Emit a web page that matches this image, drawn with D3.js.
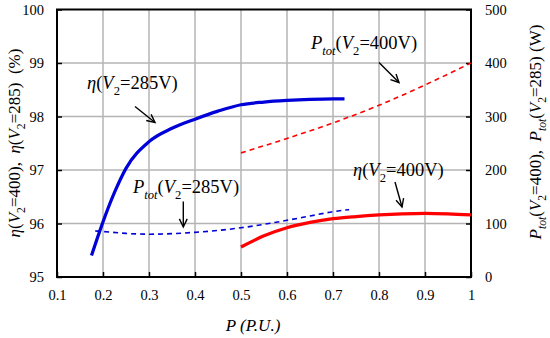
<!DOCTYPE html>
<html><head><meta charset="utf-8">
<script src="https://cdn.jsdelivr.net/npm/d3@7"></script>
</head>
<body style="margin:0">
<svg id="c" width="550" height="338" style="font-family:'Liberation Serif','Times New Roman',Tinos,monospace"></svg>
<script>
// ---- data ----
const xTicks = [0.1,0.2,0.3,0.4,0.5,0.6,0.7,0.8,0.9,1];
const xTickLabels = ["0.1","0.2","0.3","0.4","0.5","0.6","0.7","0.8","0.9","1"];
const leftTicks = [95,96,97,98,99,100];
const rightTicks = [0,100,200,300,400,500];

const eta285P = [0.175,0.2,0.225,0.25,0.3,0.35,0.4,0.45,0.5,0.55,0.6,0.65,0.7,0.725];
const eta285V = [95.40,96.03,96.58,97.03,97.53,97.78,97.95,98.10,98.22,98.27,98.30,98.32,98.33,98.33];

const eta400P = [0.5,0.55,0.6,0.65,0.7,0.75,0.8,0.85,0.9,0.95,1.0];
const eta400V = [95.56,95.77,95.92,96.02,96.09,96.13,96.16,96.18,96.19,96.18,96.16];

const ptot285P = [0.183,0.2,0.25,0.3,0.35,0.4,0.45,0.5,0.55,0.6,0.65,0.7,0.735];
const ptot285V = [86,85,81.5,80,81,83.5,87,92,98.5,106,114,122,126];

const ptot400P = [0.5,0.6,0.7,0.8,0.9,1.0];
const ptot400V = [232,259,288,321,359,400];

// ---- layout ----
const L=57, R=471, T=9.5, B=277;
const svg = d3.select("#c");
const x = d3.scaleLinear().domain([0.1,1]).range([L,R]);
const yL = d3.scaleLinear().domain([95,100]).range([B,T]);
const yR = d3.scaleLinear().domain([0,500]).range([B,T]);

const gridColor="#b4b4b4";
svg.append("g").selectAll("line").data(xTicks.slice(1,-1)).join("line")
  .attr("x1",d=>x(d)).attr("x2",d=>x(d)).attr("y1",T).attr("y2",B)
  .attr("stroke",gridColor).attr("stroke-width",1.5);
svg.append("g").selectAll("line").data(leftTicks.slice(1,-1)).join("line")
  .attr("y1",d=>yL(d)).attr("y2",d=>yL(d)).attr("x1",L).attr("x2",R)
  .attr("stroke",gridColor).attr("stroke-width",1.5);

// axes
const fs=14.5;
const ax = svg.append("g").attr("transform",`translate(0,${B})`)
  .call(d3.axisBottom(x).tickValues(xTicks).tickFormat((d,i)=>xTickLabels[i]).tickSizeInner(-5).tickSizeOuter(0).tickPadding(13));
const al = svg.append("g").attr("transform",`translate(${L},0)`)
  .call(d3.axisLeft(yL).tickValues(leftTicks).tickFormat(d3.format("d")).tickSizeInner(-5).tickSizeOuter(0).tickPadding(13));
const ar = svg.append("g").attr("transform",`translate(${R},0)`)
  .call(d3.axisRight(yR).tickValues(rightTicks).tickFormat(d3.format("d")).tickSizeInner(-5).tickSizeOuter(0).tickPadding(14));
[ax,al,ar].forEach(g=>{
  g.attr("font-family",null).attr("font-size",fs);
  g.select(".domain").remove();
  g.selectAll(".tick line").attr("stroke","#000").attr("stroke-width",1.5);
  g.selectAll(".tick text").attr("fill","#000");
});

// frame
svg.append("rect").attr("x",L).attr("y",T).attr("width",R-L).attr("height",B-T)
  .attr("fill","none").attr("stroke","#000").attr("stroke-width",2);

// lines
const blue="#0000d8", red="#ff0000";
function drawLine(P,V,yS,color,w,dash){
  const data = P.map((p,i)=>[p,V[i]]);
  svg.append("path").datum(data)
    .attr("d",d3.line().x(d=>x(d[0])).y(d=>yS(d[1])).curve(d3.curveMonotoneX))
    .attr("fill","none").attr("stroke",color).attr("stroke-width",w)
    .attr("stroke-dasharray",dash||null);
}
drawLine(ptot285P,ptot285V,yR,blue,1.6,"5,4");
drawLine(ptot400P,ptot400V,yR,red,1.6,"5,4");
drawLine(eta285P,eta285V,yL,blue,3.2);
drawLine(eta400P,eta400V,yL,red,3.2);

// rich labels
function addParts(t,parts,size){
  let shift=0;
  parts.forEach(p=>{
    const ts=t.append("tspan").text(p.t);
    if(p.s) ts.attr("font-size",size*0.68);
    if(p.i) ts.attr("font-style","italic");
    const target = p.s ? size*0.3 : 0;
    if(target!==shift){ ts.attr("dy",target-shift); shift=target; }
  });
}
function rich(xp,yp,parts,size){
  const t = svg.append("text").attr("x",xp).attr("y",yp).attr("font-size",size);
  addParts(t,parts,size);
  return t;
}
const eta = (v)=>[{t:"η",i:1},{t:"("},{t:"V",i:1},{t:"2",s:1},{t:"="+v+")"}];
const ptot = (v)=>[{t:"P",i:1},{t:"tot",i:1,s:1},{t:"("},{t:"V",i:1},{t:"2",s:1},{t:"="+v+")"}];

const lf=18.5;
rich(87,89,eta("285V"),lf);
rich(133,193,ptot("285V"),lf);
rich(311,49,ptot("400V"),lf);
rich(353,176,eta("400V"),lf);

// arrows
function arrow(x1,y1,x2,y2){
  svg.append("line").attr("x1",x1).attr("y1",y1).attr("x2",x2).attr("y2",y2)
    .attr("stroke","#000").attr("stroke-width",1.4);
  const a=Math.atan2(y2-y1,x2-x1), h=9, s=0.45;
  const p1=[x2-h*Math.cos(a-s),y2-h*Math.sin(a-s)];
  const p2=[x2-h*Math.cos(a+s),y2-h*Math.sin(a+s)];
  svg.append("path").attr("d",`M${p1}L${x2},${y2}L${p2}`)
    .attr("fill","none").attr("stroke","#000").attr("stroke-width",1.4);
}
arrow(135,106.5,155,122.5);
arrow(183.3,201.5,183.3,227);
arrow(379,62.5,399,82.5);
arrow(395,182,402,207);

// axis titles
const tl = svg.append("text").attr("transform","translate(20,143) rotate(-90)")
  .attr("text-anchor","middle").attr("font-size",17).style("white-space","pre");
addParts(tl,[{t:"η",i:1},{t:"("},{t:"V",i:1},{t:"2",s:1},{t:"=400),  "},{t:"η",i:1},{t:"("},{t:"V",i:1},{t:"2",s:1},{t:"=285)  (%)"}],17);

const tr = svg.append("text").attr("transform","translate(541,132) rotate(-90)")
  .attr("text-anchor","middle").attr("font-size",17).style("white-space","pre");
addParts(tr,[{t:"P",i:1},{t:"tot",i:1,s:1},{t:"("},{t:"V",i:1},{t:"2",s:1},{t:"=400),  "},{t:"P",i:1},{t:"tot",i:1,s:1},{t:"("},{t:"V",i:1},{t:"2",s:1},{t:"=285) (W)"}],17);

svg.append("text").attr("x",253).attr("y",331).attr("text-anchor","middle")
  .attr("font-size",17).attr("font-style","italic").style("white-space","pre").text("P (P.U.)");
</script>
</body></html>
